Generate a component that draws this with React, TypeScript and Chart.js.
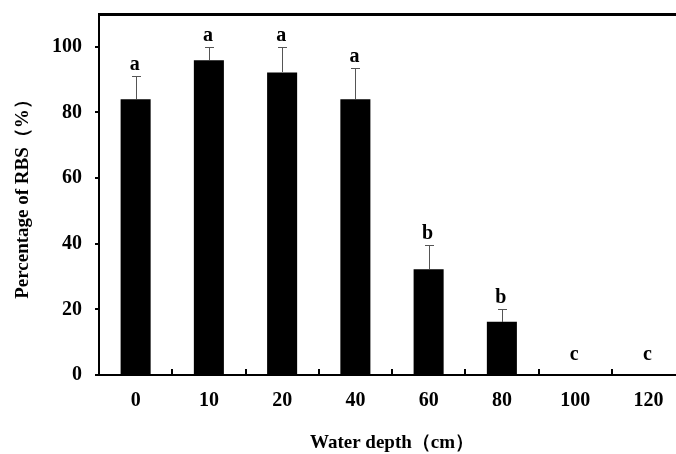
import React, { useEffect, useRef } from "react";
import { Chart, registerables } from "chart.js";

Chart.register(...registerables);

const categories = ["0", "10", "20", "40", "60", "80", "100", "120"];
const means = [84.0, 95.9, 92.2, 84.0, 32.2, 16.2, 0, 0];
const errors = [7.2, 4.0, 7.8, 9.6, 7.3, 3.8, 0, 0];
const letters = ["a", "a", "a", "a", "b", "b", "c", "c"];
const yTicks = [0, 20, 40, 60, 80, 100];

const FONT = "'Liberation Serif', 'Times New Roman', serif";

const decorPlugin = {
  id: "decor",
  afterDraw(chart: any) {
    const ctx = chart.ctx;
    const area = chart.chartArea;
    const x = chart.scales.x;
    const y = chart.scales.y;
    const zero = y.getPixelForValue(0);
    ctx.save();
    // top frame line
    ctx.fillStyle = "#000000";
    ctx.fillRect(Math.round(area.left) - 1, Math.round(area.top) - 1, 640, 3);
    // inward x ticks at category boundaries
    const catW = (area.right - area.left) / categories.length;
    for (let i = 1; i < categories.length; i++) {
      const bx = Math.round(x.getPixelForValue(i) - catW / 2);
      ctx.fillRect(bx - 1, zero - 6, 2, 6);
    }
    // error bars
    ctx.fillStyle = "#555";
    for (let i = 0; i < means.length; i++) {
      if (!errors[i]) continue;
      const cx = Math.round(x.getPixelForValue(i));
      const yTop = Math.round(y.getPixelForValue(means[i] + errors[i]));
      const yBar = Math.round(y.getPixelForValue(means[i]));
      ctx.fillRect(cx, yTop, 1, yBar - yTop);
      ctx.fillRect(cx - 4, yTop, 9, 1);
    }
    // letters
    ctx.fillStyle = "#000";
    ctx.font = `bold 20px ${FONT}`;
    ctx.textAlign = "center";
    ctx.textBaseline = "alphabetic";
    for (let i = 0; i < letters.length; i++) {
      const top = y.getPixelForValue(means[i] + errors[i]);
      const gap = means[i] === 0 ? 15 : 6;
      ctx.fillText(letters[i], x.getPixelForValue(i) - 1, top - gap);
    }
    ctx.restore();
  },
};

export default function App() {
  const ref = useRef<HTMLCanvasElement>(null);
  useEffect(() => {
    if (!ref.current) return;
    const chart = new Chart(ref.current, {
      type: "bar",
      data: {
        labels: categories,
        datasets: [
          {
            data: means,
            backgroundColor: "#000",
            borderWidth: 0,
            barPercentage: 0.41,
            categoryPercentage: 1,
          },
        ],
      },
      options: {
        responsive: false,
        animation: false,
        layout: { padding: { top: 14, right: 15, left: 0, bottom: 0 } },
        plugins: { legend: { display: false }, tooltip: { enabled: false } },
        scales: {
          x: {
            offset: true,
            grid: { display: false },
            border: { display: true, color: "#000", width: 2 },
            ticks: { color: "#000", padding: 6, font: { family: FONT, size: 20, weight: "bold" } },
            title: {
              display: true,
              text: "Water depth（cm）",
              color: "#000",
              padding: { top: 0, bottom: 0 },
              font: { family: FONT, size: 19, weight: "bold" },
            },
            afterFit(scale: any) {
              scale.height = 79;
              scale.paddingLeft = 0;
              scale.paddingRight = 0;
            },
          },
          y: {
            min: 0,
            max: 110,
            grid: { drawOnChartArea: false, drawTicks: true, tickLength: 4, color: "#000", lineWidth: 2 },
            border: { display: true, color: "#000", width: 2 },
            ticks: { color: "#000", padding: 13, font: { family: FONT, size: 20, weight: "bold" } },
            afterBuildTicks(scale: any) {
              scale.ticks = yTicks.map((v) => ({ value: v }));
            },
            title: {
              display: true,
              text: "Percentage of RBS（%）",
              color: "#000",
              padding: { top: 12, bottom: 0 },
              font: { family: FONT, size: 19, weight: "bold" },
            },
            afterFit(scale: any) {
              scale.width = 99;
              scale.paddingTop = 0;
              scale.paddingBottom = 0;
            },
          },
        },
      },
      plugins: [decorPlugin],
    } as any);
    return () => chart.destroy();
  }, []);
  return (
    <div style={{ position: "fixed", left: 0, top: 0, width: 676, height: 454, overflow: "hidden", background: "#fff" }}>
      <canvas ref={ref} width={700} height={454} style={{ width: 700, height: 454, display: "block" }} />
    </div>
  );
}
